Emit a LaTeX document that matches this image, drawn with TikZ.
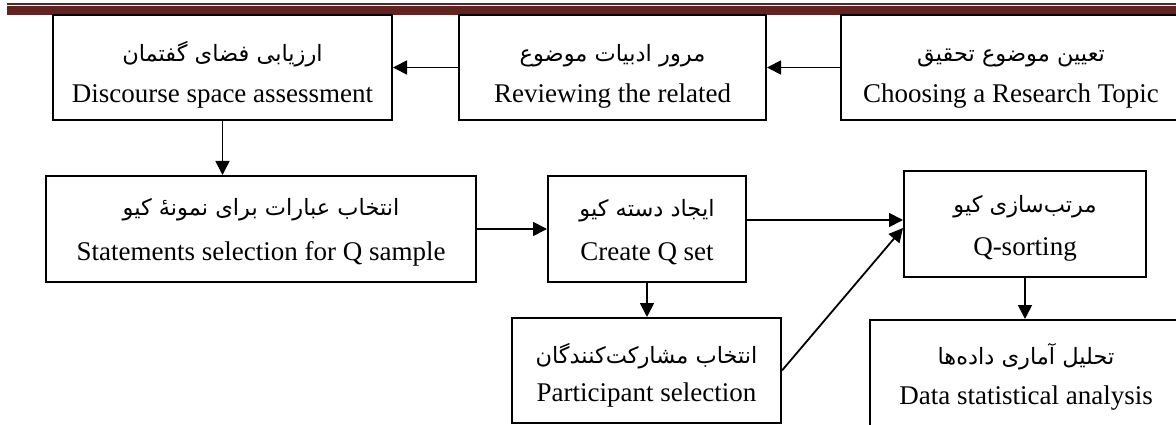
\documentclass[tikz,border=0pt]{standalone}
\usepackage{fontspec}
\setmainfont{Liberation Serif}
\newfontfamily\fa[Script=Arabic]{DejaVu Sans}
\TeXXeTstate=1
\usetikzlibrary{arrows.meta,calc}
\definecolor{hdr}{HTML}{622423}
\tikzset{
  box/.style={draw, line width=2pt, inner sep=0pt, fill=white},
  arr/.style={line width=1.8pt, -{Triangle[length=14pt,width=14pt]}},
  en/.style={anchor=base, inner sep=0pt, font=\fontsize{27}{30}\selectfont},
  fat/.style={anchor=base, inner sep=0pt, font=\fa\fontsize{22.5}{26}\selectfont},
}
\begin{document}
\begin{tikzpicture}[x=1pt,y=-1pt]
\clip (0,0) rectangle (1176,425);
\fill[white] (0,0) rectangle (1176,425);
% header rule
\fill[hdr] (7,2.8) rectangle (1176,4.6);
\fill[hdr] (7,5.8) rectangle (1176,14.6);
% boxes
\node[box, minimum width=339pt, minimum height=105pt] (b1) at (222.5,67.5) {};
\node[box, minimum width=307pt, minimum height=105pt] (b2) at (612.5,67.5) {};
\node[box, minimum width=340pt, minimum height=105pt] (b3) at (1011,67.5) {};
\node[box, minimum width=430pt, minimum height=106pt] (b4) at (261,229) {};
\node[box, minimum width=198pt, minimum height=106pt] (b5) at (647,229) {};
\node[box, minimum width=242pt, minimum height=106pt] (b6) at (1025,224) {};
\node[box, minimum width=269pt, minimum height=105pt] (b7) at (646.5,370.5) {};
\node[box, minimum width=312pt, minimum height=106pt] (b8) at (1026,373) {};
% texts
\node[fat] (b1p) at (b1.center |- 0,62) {\beginR ارزیابی فضای گفتمان\endR};
\node[en]  (b1e) at (b1.center |- 0,103) {Discourse space assessment};
\node[fat] (b2p) at (b2.center |- 0,62) {\beginR مرور ادبیات موضوع\endR};
\node[en]  (b2e) at (b2.center |- 0,103) {Reviewing the related};
\node[fat] (b3p) at (b3.center |- 0,62) {\beginR تعیین موضوع تحقیق\endR};
\node[en]  (b3e) at (b3.center |- 0,103) {Choosing a Research Topic};
\node[fat] (b4p) at (b4.center |- 0,215) {\beginR انتخاب عبارات برای نمونهٔ کیو\endR};
\node[en]  (b4e) at (b4.center |- 0,260) {Statements selection for Q sample};
\node[fat] (b5p) at (b5.center |- 0,216) {\beginR ایجاد دسته کیو\endR};
\node[en]  (b5e) at (b5.center |- 0,260) {Create Q set};
\node[fat] (b6p) at (b6.center |- 0,212) {\beginR مرتب‌سازی کیو\endR};
\node[en]  (b6e) at (b6.center |- 0,255) {Q-sorting};
\node[fat] (b7p) at (b7.center |- 0,363) {\beginR انتخاب مشارکت‌کنندگان\endR};
\node[en]  (b7e) at (b7.center |- 0,401) {Participant selection};
\node[fat] (b8p) at (b8.center |- 0,364) {\beginR تحلیل آماری داده‌ها\endR};
\node[en]  (b8e) at (b8.center |- 0,404) {Data statistical analysis};
% connectors
\draw[arr] (b3.west) -- (b2.east);
\draw[arr] (b2.west) -- (b1.east);
\draw[arr] (b1.south) -- (b1.south |- b4.north);
\draw[arr] (b4.east) -- (b4.east -| b5.west);
\draw[arr] ([yshift=9pt]b5.east) -- ([yshift=9pt]b5.east -| b6.west);
\draw[arr] (b5.south) -- (b5.south |- b7.north);
\draw[arr] (b7.east) -- ([yshift=-4pt]b6.west);
\draw[arr] (b6.south) -- (b6.south |- b8.north);
\end{tikzpicture}
\end{document}
